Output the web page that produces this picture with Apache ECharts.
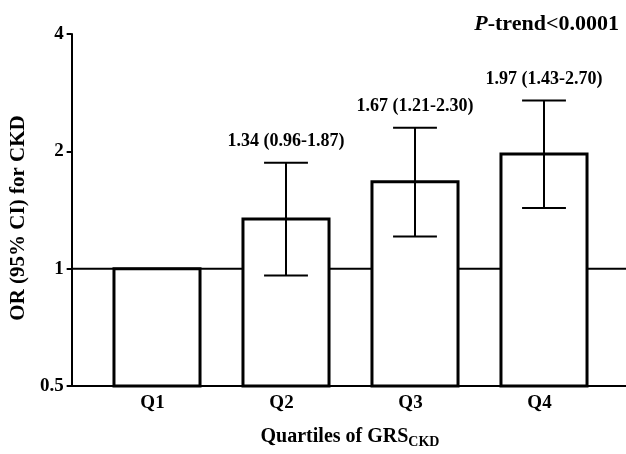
<!DOCTYPE html>
<html>
<head>
<meta charset="utf-8">
<script src="https://cdn.jsdelivr.net/npm/echarts@6/dist/echarts.min.js"></script>
<style>
html,body{margin:0;padding:0;background:#fff;}
#chart{width:626px;height:454px;}
</style>
</head>
<body>
<div id="chart"></div>
<script>
// ---- data ----
const categories = ['Q1', 'Q2', 'Q3', 'Q4'];
const orValues = [1, 1.34, 1.67, 1.97];
const ciLow = [null, 0.96, 1.21, 1.43];
const ciHigh = [null, 1.87, 2.30, 2.70];
const ciLabels = ['', '1.34 (0.96-1.87)', '1.67 (1.21-2.30)', '1.97 (1.43-2.70)'];
const referenceOR = 1;
const yMin = 0.5, yMax = 4;

const SERIF = '"Liberation Serif", "Times New Roman", serif';
const chart = echarts.init(document.getElementById('chart'), null, {renderer: 'canvas'});

const rows = categories.map((c, i) => [
  i, orValues[i],
  ciLow[i] == null ? NaN : ciLow[i],
  ciHigh[i] == null ? NaN : ciHigh[i]
]);

const gridTop = 34, gridBottom = 68;

const option = {
  animation: false,
  backgroundColor: '#fff',
  title: {
    text: '{i|P}-trend<0.0001',
    right: 2,
    top: 8,
    textStyle: {
      fontFamily: SERIF, fontWeight: 'bold', fontSize: 22, color: '#000',
      rich: {
        i: {fontFamily: SERIF, fontWeight: 'bold', fontStyle: 'italic', fontSize: 22, color: '#000'}
      }
    }
  },
  grid: [
    {left: 70, right: 0, top: gridTop, bottom: gridBottom},
    {left: 92.5, right: 17.5, top: gridTop, bottom: gridBottom},
    {left: 88, right: 22, top: gridTop, bottom: gridBottom}
  ],
  xAxis: [
    {
      gridIndex: 0, type: 'value', min: 0, max: 1,
      axisLine: {show: true, onZero: false, lineStyle: {color: '#000', width: 2}},
      axisTick: {show: false}, axisLabel: {show: false}, splitLine: {show: false}
    },
    {gridIndex: 1, type: 'category', data: categories, show: false},
    {
      gridIndex: 2, type: 'category', data: categories,
      axisLine: {show: true, lineStyle: {color: '#000', width: 2, opacity: 0}},
      axisTick: {show: true, alignWithLabel: true, length: 5, lineStyle: {color: '#000', width: 2}},
      axisLabel: {fontFamily: SERIF, fontWeight: 'bold', fontSize: 19, color: '#000', margin: 15},
      name: '{a|Quartiles of GRS}{s|CKD}',
      nameLocation: 'middle',
      nameGap: 46,
      nameTextStyle: {
        color: '#000',
        padding: [0, 0, 0, 8],
        rich: {
          a: {fontFamily: SERIF, fontWeight: 'bold', fontSize: 20, color: '#000'},
          s: {fontFamily: SERIF, fontWeight: 'bold', fontSize: 14, color: '#000', padding: [10, 0, 0, 0]}
        }
      }
    }
  ],
  yAxis: [
    {
      gridIndex: 0, type: 'log', logBase: 2, min: yMin, max: yMax,
      axisLine: {show: true, lineStyle: {color: '#000', width: 2}},
      axisTick: {show: true, inside: false, length: 5, lineStyle: {color: '#000', width: 2}},
      axisLabel: {fontFamily: SERIF, fontWeight: 'bold', fontSize: 19, color: '#000', margin: 8},
      splitLine: {show: false},
      name: 'OR (95% CI) for CKD',
      nameLocation: 'middle',
      nameRotate: 90,
      nameGap: 29,
      nameTextStyle: {fontFamily: SERIF, fontWeight: 'bold', fontSize: 21, color: '#000', padding: [0, 16, 0, 0]}
    },
    {gridIndex: 1, type: 'log', logBase: 2, min: yMin, max: yMax, show: false},
    {gridIndex: 2, type: 'log', logBase: 2, min: yMin, max: yMax, show: false}
  ],
  series: [
    {
      type: 'line', xAxisIndex: 0, yAxisIndex: 0,
      data: [[0, referenceOR], [1, referenceOR]],
      symbol: 'none', silent: true, z: 1,
      lineStyle: {color: '#000', width: 2}
    },
    {
      type: 'custom', xAxisIndex: 1, yAxisIndex: 1, z: 5,
      data: rows,
      encode: {x: 0, y: 1},
      clip: false,
      renderItem: function (params, api) {
        const i = api.value(0);
        const v = api.value(1);
        const lo = api.value(2);
        const hi = api.value(3);
        const band = api.coord([1, 1])[0] - api.coord([0, 1])[0];
        const base = api.coord([i, yMin]);
        const top = api.coord([i, v]);
        const bw = band * 0.667;
        const cap = band * 0.34;
        const children = [{
          type: 'rect',
          shape: {x: top[0] - bw / 2, y: top[1], width: bw, height: base[1] - top[1]},
          style: {fill: '#fff', stroke: '#000', lineWidth: 3}
        }];
        if (!isNaN(lo) && !isNaN(hi)) {
          const pLo = api.coord([i, lo]);
          const pHi = api.coord([i, hi]);
          const ls = {stroke: '#000', lineWidth: 2};
          children.push(
            {type: 'line', shape: {x1: pLo[0], y1: pLo[1], x2: pHi[0], y2: pHi[1]}, style: ls},
            {type: 'line', shape: {x1: pHi[0] - cap / 2, y1: pHi[1], x2: pHi[0] + cap / 2, y2: pHi[1]}, style: ls},
            {type: 'line', shape: {x1: pLo[0] - cap / 2, y1: pLo[1], x2: pLo[0] + cap / 2, y2: pLo[1]}, style: ls},
            {
              type: 'text',
              style: {
                text: ciLabels[params.dataIndex],
                x: pHi[0], y: pHi[1] - 21,
                align: 'center', verticalAlign: 'middle',
                font: 'bold 18px ' + SERIF,
                fill: '#000'
              }
            }
          );
        }
        return {type: 'group', children: children};
      }
    }
  ]
};
chart.setOption(option);
</script>
</body>
</html>
